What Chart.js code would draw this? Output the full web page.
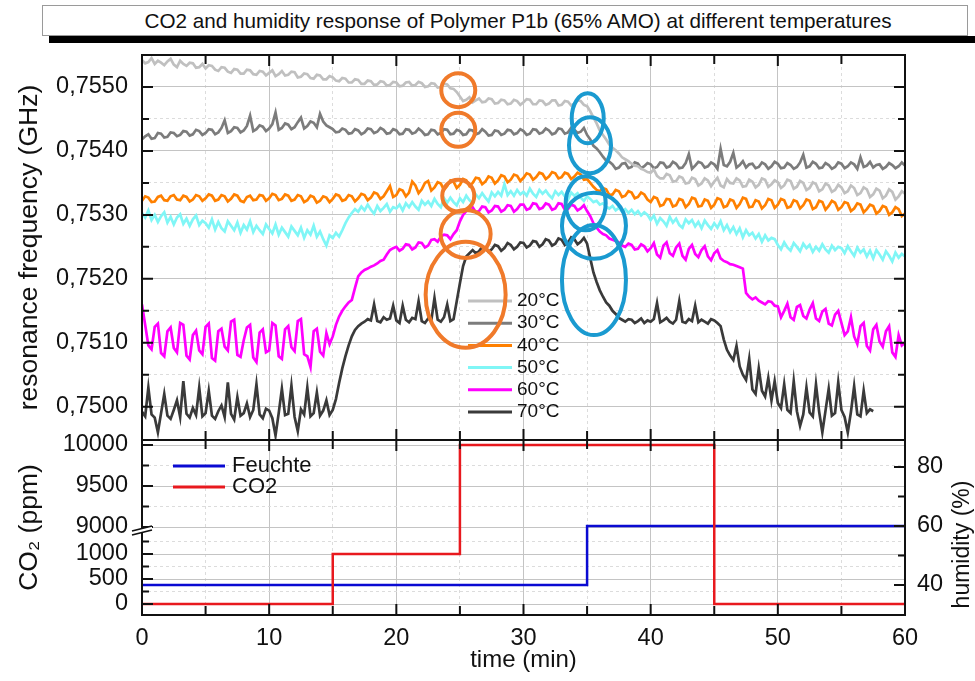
<!DOCTYPE html>
<html>
<head>
<meta charset="utf-8">
<title>CO2 and humidity response of Polymer P1b</title>
<script src="https://cdn.jsdelivr.net/npm/chart.js@4.4.1/dist/chart.umd.min.js"></script>
<style>
  html, body { margin: 0; padding: 0; background: #fff; }
  #page { position: relative; width: 975px; height: 681px; overflow: hidden;
          font-family: "Liberation Sans", Arial, Helvetica, sans-serif; }
  #headShadow { position: absolute; left: 49px; top: 36px; width: 926px; height: 7px; background: #000; }
  #head { position: absolute; left: 42px; top: 5px; width: 926px; height: 31px; box-sizing: border-box;
          border: 1px solid #9a9a9a; background: #fff; font-size: 20.7px; line-height: 29px;
          text-align: center; padding-left: 26px; color: #111; white-space: nowrap; }
  canvas { position: absolute; left: 0; }
  #freqChart { top: 0; }
  #gasChart { top: 430px; }
</style>
</head>
<body>
<div id="page">
  <div id="headShadow"></div>
  <div id="head">CO2 and humidity response of Polymer P1b (65% AMO) at different temperatures</div>
  <canvas id="freqChart" width="975" height="445"></canvas>
  <canvas id="gasChart" width="975" height="251"></canvas>
</div>
<script>
// one reading every 15 s, 0 .. 60 min
const minutes = Array.from({ length: 241 }, (_, i) => i * 0.25);

const temperatures = ['20°C', '30°C', '40°C', '50°C', '60°C', '70°C'];

// resonance frequency in GHz per temperature, 20 readings per 5 min per row
const freq20 = [
  0.75542, 0.75537, 0.75539, 0.75545, 0.75536, 0.75541, 0.75538, 0.75534, 0.75540, 0.75544, 0.75535, 0.75531, 0.75541, 0.75536, 0.75533, 0.75538, 0.75537, 0.75530, 0.75531, 0.75536,
  0.75529, 0.75534, 0.75533, 0.75527, 0.75525, 0.75531, 0.75530, 0.75524, 0.75522, 0.75528, 0.75527, 0.75521, 0.75521, 0.75527, 0.75526, 0.75520, 0.75519, 0.75525, 0.75524, 0.75518,
  0.75522, 0.75526, 0.75517, 0.75520, 0.75525, 0.75518, 0.75519, 0.75524, 0.75523, 0.75515, 0.75516, 0.75521, 0.75520, 0.75514, 0.75513, 0.75519, 0.75518, 0.75512, 0.75512, 0.75517,
  0.75515, 0.75510, 0.75509, 0.75514, 0.75513, 0.75507, 0.75507, 0.75512, 0.75511, 0.75505, 0.75505, 0.75510, 0.75509, 0.75503, 0.75504, 0.75509, 0.75508, 0.75502, 0.75503, 0.75508,
  0.75507, 0.75501, 0.75502, 0.75507, 0.75508, 0.75502, 0.75503, 0.75508, 0.75506, 0.75500, 0.75501, 0.75506, 0.75505, 0.75499, 0.75500, 0.75505, 0.75504, 0.75498, 0.75497, 0.75492,
  0.75485, 0.75478, 0.75480, 0.75484, 0.75476, 0.75479, 0.75482, 0.75476, 0.75477, 0.75482, 0.75481, 0.75474, 0.75475, 0.75480, 0.75479, 0.75473, 0.75474, 0.75480, 0.75478, 0.75472,
  0.75476, 0.75481, 0.75480, 0.75473, 0.75473, 0.75479, 0.75478, 0.75472, 0.75474, 0.75479, 0.75479, 0.75471, 0.75472, 0.75478, 0.75477, 0.75471, 0.75474, 0.75479, 0.75478, 0.75472,
  0.75470, 0.75462, 0.75452, 0.75443, 0.75432, 0.75425, 0.75418, 0.75410, 0.75405, 0.75401, 0.75396, 0.75390, 0.75387, 0.75384, 0.75380, 0.75377, 0.75376, 0.75372, 0.75370, 0.75367,
  0.75366, 0.75371, 0.75361, 0.75357, 0.75357, 0.75364, 0.75362, 0.75352, 0.75353, 0.75360, 0.75358, 0.75349, 0.75350, 0.75358, 0.75356, 0.75346, 0.75349, 0.75357, 0.75354, 0.75345,
  0.75352, 0.75358, 0.75346, 0.75343, 0.75356, 0.75350, 0.75349, 0.75357, 0.75354, 0.75344, 0.75345, 0.75355, 0.75352, 0.75343, 0.75347, 0.75357, 0.75355, 0.75344, 0.75348, 0.75354,
  0.75351, 0.75342, 0.75346, 0.75355, 0.75353, 0.75341, 0.75344, 0.75353, 0.75350, 0.75339, 0.75342, 0.75351, 0.75348, 0.75337, 0.75340, 0.75349, 0.75346, 0.75336, 0.75339, 0.75347,
  0.75343, 0.75334, 0.75337, 0.75346, 0.75342, 0.75331, 0.75334, 0.75343, 0.75340, 0.75328, 0.75332, 0.75341, 0.75338, 0.75326, 0.75330, 0.75340, 0.75336, 0.75324, 0.75329, 0.75337,
  0.75333
];
const freq30 = [
  0.75418, 0.75423, 0.75426, 0.75419, 0.75420, 0.75428, 0.75427, 0.75421, 0.75422, 0.75429, 0.75428, 0.75423, 0.75425, 0.75431, 0.75430, 0.75424, 0.75426, 0.75433, 0.75431, 0.75425,
  0.75428, 0.75434, 0.75433, 0.75426, 0.75429, 0.75436, 0.75448, 0.75428, 0.75431, 0.75437, 0.75436, 0.75429, 0.75432, 0.75439, 0.75455, 0.75431, 0.75434, 0.75440, 0.75438, 0.75431,
  0.75435, 0.75442, 0.75460, 0.75433, 0.75436, 0.75443, 0.75441, 0.75434, 0.75437, 0.75445, 0.75452, 0.75435, 0.75439, 0.75446, 0.75444, 0.75437, 0.75458, 0.75446, 0.75440, 0.75437,
  0.75434, 0.75429, 0.75430, 0.75435, 0.75433, 0.75427, 0.75428, 0.75434, 0.75432, 0.75426, 0.75429, 0.75435, 0.75434, 0.75428, 0.75430, 0.75436, 0.75433, 0.75427, 0.75428, 0.75434,
  0.75432, 0.75426, 0.75427, 0.75434, 0.75433, 0.75427, 0.75429, 0.75435, 0.75431, 0.75425, 0.75426, 0.75433, 0.75432, 0.75426, 0.75428, 0.75434, 0.75433, 0.75426, 0.75427, 0.75433,
  0.75431, 0.75425, 0.75426, 0.75433, 0.75432, 0.75426, 0.75428, 0.75434, 0.75430, 0.75424, 0.75425, 0.75432, 0.75431, 0.75425, 0.75427, 0.75433, 0.75432, 0.75426, 0.75428, 0.75434,
  0.75431, 0.75425, 0.75427, 0.75434, 0.75433, 0.75427, 0.75429, 0.75435, 0.75432, 0.75426, 0.75428, 0.75435, 0.75434, 0.75427, 0.75429, 0.75436, 0.75433, 0.75428, 0.75430, 0.75436,
  0.75425, 0.75418, 0.75408, 0.75404, 0.75398, 0.75391, 0.75385, 0.75383, 0.75379, 0.75372, 0.75374, 0.75380, 0.75381, 0.75373, 0.75375, 0.75382, 0.75380, 0.75373, 0.75376, 0.75381,
  0.75379, 0.75373, 0.75375, 0.75382, 0.75381, 0.75374, 0.75376, 0.75383, 0.75380, 0.75373, 0.75374, 0.75381, 0.75395, 0.75372, 0.75377, 0.75383, 0.75381, 0.75374, 0.75376, 0.75382,
  0.75379, 0.75372, 0.75403, 0.75378, 0.75376, 0.75383, 0.75397, 0.75374, 0.75378, 0.75384, 0.75374, 0.75379, 0.75380, 0.75373, 0.75375, 0.75382, 0.75379, 0.75372, 0.75376, 0.75383,
  0.75380, 0.75373, 0.75374, 0.75381, 0.75378, 0.75372, 0.75375, 0.75382, 0.75394, 0.75374, 0.75376, 0.75383, 0.75380, 0.75373, 0.75374, 0.75381, 0.75378, 0.75372, 0.75375, 0.75382,
  0.75380, 0.75373, 0.75376, 0.75382, 0.75379, 0.75372, 0.75390, 0.75375, 0.75377, 0.75383, 0.75374, 0.75378, 0.75379, 0.75372, 0.75375, 0.75381, 0.75378, 0.75373, 0.75376, 0.75382,
  0.75377
];
const freq40 = [
  0.75322, 0.75329, 0.75327, 0.75320, 0.75321, 0.75328, 0.75330, 0.75323, 0.75322, 0.75329, 0.75331, 0.75324, 0.75323, 0.75330, 0.75328, 0.75321, 0.75324, 0.75331, 0.75329, 0.75322,
  0.75326, 0.75332, 0.75330, 0.75322, 0.75324, 0.75331, 0.75329, 0.75321, 0.75325, 0.75332, 0.75330, 0.75322, 0.75320, 0.75328, 0.75330, 0.75323, 0.75324, 0.75331, 0.75330, 0.75322,
  0.75326, 0.75333, 0.75331, 0.75323, 0.75325, 0.75332, 0.75330, 0.75322, 0.75324, 0.75331, 0.75329, 0.75320, 0.75323, 0.75330, 0.75328, 0.75319, 0.75322, 0.75329, 0.75327, 0.75320,
  0.75325, 0.75332, 0.75330, 0.75322, 0.75324, 0.75331, 0.75329, 0.75321, 0.75326, 0.75333, 0.75331, 0.75323, 0.75327, 0.75335, 0.75333, 0.75325, 0.75329, 0.75337, 0.75345, 0.75328,
  0.75331, 0.75340, 0.75338, 0.75329, 0.75335, 0.75352, 0.75346, 0.75334, 0.75340, 0.75350, 0.75353, 0.75338, 0.75343, 0.75351, 0.75349, 0.75339, 0.75345, 0.75354, 0.75352, 0.75342,
  0.75347, 0.75356, 0.75354, 0.75345, 0.75350, 0.75358, 0.75357, 0.75348, 0.75352, 0.75360, 0.75358, 0.75349, 0.75354, 0.75362, 0.75360, 0.75351, 0.75355, 0.75363, 0.75361, 0.75353,
  0.75358, 0.75365, 0.75363, 0.75355, 0.75359, 0.75366, 0.75364, 0.75356, 0.75360, 0.75367, 0.75365, 0.75357, 0.75359, 0.75366, 0.75364, 0.75356, 0.75360, 0.75366, 0.75363, 0.75355,
  0.75356, 0.75350, 0.75344, 0.75339, 0.75337, 0.75342, 0.75340, 0.75331, 0.75332, 0.75339, 0.75337, 0.75328, 0.75330, 0.75337, 0.75335, 0.75326, 0.75328, 0.75335, 0.75332, 0.75324,
  0.75320, 0.75328, 0.75326, 0.75314, 0.75316, 0.75325, 0.75324, 0.75313, 0.75315, 0.75325, 0.75323, 0.75312, 0.75317, 0.75327, 0.75325, 0.75313, 0.75314, 0.75324, 0.75322, 0.75311,
  0.75316, 0.75326, 0.75324, 0.75312, 0.75314, 0.75324, 0.75322, 0.75311, 0.75317, 0.75327, 0.75325, 0.75312, 0.75313, 0.75323, 0.75321, 0.75310, 0.75315, 0.75325, 0.75323, 0.75311,
  0.75316, 0.75325, 0.75323, 0.75311, 0.75313, 0.75323, 0.75321, 0.75310, 0.75315, 0.75324, 0.75322, 0.75309, 0.75312, 0.75322, 0.75320, 0.75308, 0.75314, 0.75322, 0.75319, 0.75308,
  0.75312, 0.75320, 0.75318, 0.75306, 0.75310, 0.75318, 0.75316, 0.75304, 0.75309, 0.75316, 0.75314, 0.75302, 0.75306, 0.75314, 0.75312, 0.75300, 0.75304, 0.75312, 0.75309, 0.75298,
  0.75302
];
const freq50 = [
  0.75303, 0.75296, 0.75307, 0.75292, 0.75300, 0.75289, 0.75298, 0.75304, 0.75288, 0.75297, 0.75285, 0.75296, 0.75301, 0.75286, 0.75294, 0.75283, 0.75293, 0.75299, 0.75284, 0.75291,
  0.75287, 0.75280, 0.75293, 0.75277, 0.75289, 0.75279, 0.75274, 0.75290, 0.75283, 0.75276, 0.75288, 0.75272, 0.75284, 0.75277, 0.75290, 0.75273, 0.75283, 0.75276, 0.75270, 0.75285,
  0.75278, 0.75271, 0.75285, 0.75269, 0.75280, 0.75273, 0.75266, 0.75282, 0.75275, 0.75268, 0.75280, 0.75264, 0.75276, 0.75269, 0.75283, 0.75266, 0.75274, 0.75262, 0.75252, 0.75268,
  0.75264, 0.75272, 0.75266, 0.75276, 0.75287, 0.75296, 0.75303, 0.75309, 0.75305, 0.75313, 0.75307, 0.75316, 0.75308, 0.75302, 0.75314, 0.75306, 0.75311, 0.75317, 0.75305, 0.75312,
  0.75310, 0.75316, 0.75307, 0.75318, 0.75312, 0.75320, 0.75313, 0.75308, 0.75322, 0.75316, 0.75321, 0.75314, 0.75325, 0.75317, 0.75312, 0.75326, 0.75319, 0.75327, 0.75320, 0.75315,
  0.75326, 0.75320, 0.75330, 0.75323, 0.75318, 0.75332, 0.75326, 0.75334, 0.75327, 0.75321, 0.75335, 0.75329, 0.75336, 0.75330, 0.75348, 0.75331, 0.75337, 0.75330, 0.75339, 0.75332,
  0.75336, 0.75330, 0.75341, 0.75333, 0.75328, 0.75339, 0.75333, 0.75338, 0.75331, 0.75326, 0.75337, 0.75331, 0.75336, 0.75329, 0.75324, 0.75335, 0.75330, 0.75334, 0.75327, 0.75322,
  0.75329, 0.75325, 0.75320, 0.75322, 0.75316, 0.75318, 0.75313, 0.75310, 0.75314, 0.75307, 0.75311, 0.75305, 0.75309, 0.75303, 0.75308, 0.75301, 0.75306, 0.75299, 0.75304, 0.75300,
  0.75292, 0.75299, 0.75286, 0.75295, 0.75290, 0.75283, 0.75297, 0.75288, 0.75294, 0.75284, 0.75280, 0.75293, 0.75287, 0.75292, 0.75282, 0.75289, 0.75279, 0.75291, 0.75284, 0.75278,
  0.75287, 0.75280, 0.75290, 0.75276, 0.75284, 0.75273, 0.75281, 0.75270, 0.75279, 0.75265, 0.75276, 0.75268, 0.75272, 0.75263, 0.75270, 0.75258, 0.75268, 0.75260, 0.75264, 0.75262,
  0.75253, 0.75246, 0.75257, 0.75249, 0.75244, 0.75256, 0.75250, 0.75243, 0.75255, 0.75248, 0.75253, 0.75242, 0.75250, 0.75244, 0.75254, 0.75246, 0.75241, 0.75252, 0.75245, 0.75250,
  0.75248, 0.75240, 0.75251, 0.75243, 0.75236, 0.75249, 0.75241, 0.75246, 0.75235, 0.75244, 0.75232, 0.75245, 0.75238, 0.75230, 0.75243, 0.75236, 0.75227, 0.75241, 0.75233, 0.75239,
  0.75235
];
const freq60 = [
  0.75160, 0.75128, 0.75096, 0.75090, 0.75125, 0.75130, 0.75084, 0.75079, 0.75118, 0.75124, 0.75092, 0.75085, 0.75131, 0.75128, 0.75080, 0.75074, 0.75112, 0.75119, 0.75088, 0.75082,
  0.75125, 0.75130, 0.75076, 0.75072, 0.75118, 0.75122, 0.75094, 0.75088, 0.75133, 0.75136, 0.75081, 0.75078, 0.75104, 0.75124, 0.75128, 0.75077, 0.75070, 0.75116, 0.75121, 0.75085,
  0.75088, 0.75131, 0.75127, 0.75079, 0.75075, 0.75121, 0.75126, 0.75093, 0.75087, 0.75134, 0.75137, 0.75082, 0.75079, 0.75062, 0.75118, 0.75122, 0.75086, 0.75080, 0.75115, 0.75098,
  0.75110, 0.75128, 0.75141, 0.75150, 0.75157, 0.75163, 0.75167, 0.75186, 0.75204, 0.75210, 0.75214, 0.75216, 0.75219, 0.75221, 0.75224, 0.75228, 0.75230, 0.75238, 0.75245, 0.75248,
  0.75250, 0.75244, 0.75247, 0.75254, 0.75253, 0.75246, 0.75249, 0.75257, 0.75256, 0.75249, 0.75252, 0.75261, 0.75262, 0.75258, 0.75266, 0.75269, 0.75268, 0.75262, 0.75270, 0.75276,
  0.75290, 0.75300, 0.75306, 0.75311, 0.75312, 0.75304, 0.75306, 0.75313, 0.75312, 0.75304, 0.75307, 0.75314, 0.75313, 0.75305, 0.75308, 0.75315, 0.75314, 0.75305, 0.75309, 0.75316,
  0.75316, 0.75308, 0.75310, 0.75318, 0.75317, 0.75309, 0.75311, 0.75318, 0.75316, 0.75308, 0.75310, 0.75318, 0.75317, 0.75308, 0.75309, 0.75316, 0.75314, 0.75307, 0.75310, 0.75315,
  0.75306, 0.75298, 0.75287, 0.75280, 0.75274, 0.75270, 0.75268, 0.75263, 0.75261, 0.75259, 0.75257, 0.75252, 0.75250, 0.75255, 0.75253, 0.75246, 0.75247, 0.75254, 0.75251, 0.75243,
  0.75248, 0.75256, 0.75238, 0.75233, 0.75252, 0.75257, 0.75240, 0.75236, 0.75249, 0.75255, 0.75236, 0.75230, 0.75247, 0.75253, 0.75239, 0.75234, 0.75245, 0.75251, 0.75235, 0.75229,
  0.75240, 0.75245, 0.75232, 0.75228, 0.75226, 0.75223, 0.75222, 0.75220, 0.75218, 0.75216, 0.75178, 0.75172, 0.75168, 0.75171, 0.75166, 0.75163, 0.75160, 0.75165, 0.75164, 0.75158,
  0.75157, 0.75140, 0.75150, 0.75161, 0.75140, 0.75136, 0.75156, 0.75159, 0.75142, 0.75138, 0.75152, 0.75162, 0.75138, 0.75134, 0.75149, 0.75153, 0.75130, 0.75127, 0.75144, 0.75150,
  0.75131, 0.75112, 0.75118, 0.75140, 0.75110, 0.75098, 0.75126, 0.75131, 0.75095, 0.75088, 0.75121, 0.75128, 0.75102, 0.75094, 0.75118, 0.75126, 0.75085, 0.75078, 0.75112, 0.75096,
  0.75100
];
// the 70 °C run stops at 57.5 min
const freq70 = [
  0.74992, 0.74985, 0.75030, 0.74988, 0.74983, 0.74960, 0.74990, 0.75020, 0.74986, 0.74981, 0.74995, 0.75010, 0.74984, 0.75040, 0.74989, 0.74983, 0.74998, 0.74987, 0.75030, 0.74985,
  0.74990, 0.75025, 0.74986, 0.74981, 0.74993, 0.75002, 0.74984, 0.75038, 0.74989, 0.74980, 0.75015, 0.74986, 0.74990, 0.75005, 0.74984, 0.74995, 0.75035, 0.74988, 0.74982, 0.74997,
  0.74994, 0.74982, 0.74955, 0.74990, 0.75028, 0.74987, 0.74989, 0.75033, 0.74984, 0.74962, 0.74996, 0.74988, 0.75030, 0.74985, 0.74990, 0.75022, 0.74986, 0.74994, 0.75010, 0.74987,
  0.74995, 0.75012, 0.75037, 0.75060, 0.75079, 0.75096, 0.75110, 0.75120, 0.75126, 0.75130, 0.75133, 0.75137, 0.75135, 0.75160, 0.75134, 0.75132, 0.75140, 0.75136, 0.75138, 0.75158,
  0.75135, 0.75131, 0.75158, 0.75136, 0.75132, 0.75139, 0.75137, 0.75165, 0.75134, 0.75131, 0.75138, 0.75135, 0.75170, 0.75136, 0.75133, 0.75140, 0.75160, 0.75134, 0.75137, 0.75165,
  0.75193, 0.75220, 0.75235, 0.75240, 0.75245, 0.75240, 0.75243, 0.75250, 0.75248, 0.75242, 0.75246, 0.75253, 0.75251, 0.75244, 0.75248, 0.75256, 0.75253, 0.75246, 0.75250, 0.75257,
  0.75256, 0.75249, 0.75252, 0.75259, 0.75258, 0.75250, 0.75254, 0.75262, 0.75260, 0.75252, 0.75255, 0.75263, 0.75261, 0.75253, 0.75257, 0.75265, 0.75262, 0.75254, 0.75258, 0.75264,
  0.75255, 0.75232, 0.75210, 0.75195, 0.75182, 0.75172, 0.75163, 0.75158, 0.75150, 0.75145, 0.75139, 0.75136, 0.75133, 0.75137, 0.75136, 0.75131, 0.75134, 0.75138, 0.75131, 0.75135,
  0.75133, 0.75137, 0.75162, 0.75132, 0.75135, 0.75139, 0.75133, 0.75130, 0.75136, 0.75165, 0.75133, 0.75131, 0.75137, 0.75134, 0.75158, 0.75132, 0.75136, 0.75133, 0.75130, 0.75137,
  0.75135, 0.75131, 0.75126, 0.75105, 0.75089, 0.75080, 0.75073, 0.75095, 0.75063, 0.75050, 0.75042, 0.75075, 0.75027, 0.75020, 0.75060, 0.75025, 0.75016, 0.75045, 0.75010, 0.75040,
  0.75006, 0.74998, 0.75035, 0.74995, 0.74990, 0.75040, 0.74993, 0.74970, 0.74988, 0.75030, 0.74991, 0.74985, 0.75035, 0.74992, 0.74960, 0.74994, 0.75028, 0.74986, 0.74990, 0.75038,
  0.74995, 0.74984, 0.74960, 0.74992, 0.75032, 0.74988, 0.74985, 0.75025, 0.74990, 0.74996, 0.74993
];
const freqTicks = [0.7500, 0.7505, 0.7510, 0.7515, 0.7520, 0.7525, 0.7530,
                   0.7535, 0.7540, 0.7545, 0.7550];

// gas programme: CO2 set point (ppm) and humidity (%), held until the next change
const co2Minutes = [0, 15, 25, 45, 60];
const co2Ppm = [0, 1000, 10000, 0, 0];
const humidityMinutes = [0, 35, 60];
const humidityPct = [40, 60, 60];
const co2Ticks = [0, 250, 500, 750, 1000, 1250, 9000, 9250, 9500, 9750, 10000];
const humidityTicks = [40, 50, 60, 70, 80];

const tempColors = ['#c0c0c0', '#7c7c7c', '#ff8000', '#80f6f6', '#ff00ff', '#3a3a3a'];
const FONT = '"Liberation Sans", Arial, Helvetica, sans-serif';

// marked response regions: centre in (min, GHz), radii in px
const rings = [
  { t: 24.87, v: 0.75495, rx: 17, ry: 17, color: '#f07a2a' },
  { t: 24.87, v: 0.75433, rx: 17, ry: 17, color: '#f07a2a' },
  { t: 24.87, v: 0.75330, rx: 16, ry: 16, color: '#f07a2a' },
  { t: 25.45, v: 0.75270, rx: 25, ry: 24, color: '#f07a2a' },
  { t: 25.45, v: 0.75175, rx: 40, ry: 53, color: '#f07a2a' },
  { t: 35.05, v: 0.75451, rx: 16, ry: 25, color: '#1a9ad0' },
  { t: 35.23, v: 0.75409, rx: 21, ry: 28, color: '#1a9ad0' },
  { t: 34.89, v: 0.75318, rx: 20, ry: 27, color: '#1a9ad0' },
  { t: 35.54, v: 0.75283, rx: 32, ry: 33, color: '#1a9ad0' },
  { t: 35.54, v: 0.75198, rx: 32, ry: 55, color: '#1a9ad0' }
];

Chart.defaults.font.family = FONT;
Chart.defaults.color = '#111';

function isMultiple(v, step) {
  return Math.abs(v / step - Math.round(v / step)) < 1e-6;
}

// CO2 axis with a gap between 1250 and 9000 ppm
const PPM_KNEE = 1540;       // lower-segment position where 9000 ppm sits
const PPM_UPPER_GAIN = 1.64; // upper segment is stretched relative to the lower one
function squashPpm(v) {
  return v < 9000 ? Math.min(v, PPM_KNEE) : PPM_KNEE + (v - 9000) * PPM_UPPER_GAIN;
}
function unsquashPpm(u) {
  return u <= PPM_KNEE ? u : 9000 + (u - PPM_KNEE) / PPM_UPPER_GAIN;
}
class BrokenScale extends Chart.LinearScale {
  static id = 'broken';
  static defaults = {};
  determineDataLimits() {
    this.min = squashPpm(this.options.min);
    this.max = squashPpm(this.options.max);
  }
  buildTicks() {
    return co2Ticks.map(value => ({ value }));
  }
  getPixelForValue(value) {
    return super.getPixelForValue(squashPpm(value));
  }
  getValueForPixel(pixel) {
    return unsquashPpm(super.getValueForPixel(pixel));
  }
}
Chart.register(BrokenScale);

function gridStyle(step) {
  return {
    drawTicks: false,
    lineWidth: 1,
    color: c => (c.tick && isMultiple(c.tick.value, step)) ? '#c4c4c4' : '#dcdcdc'
  };
}
function borderStyle(step) {
  return {
    display: false,
    dash: c => (c.tick && isMultiple(c.tick.value, step)) ? [] : [3, 3]
  };
}
// fixed axis width, no extra room reserved for the end labels
function fixWidth(w) {
  return s => { s.width = w; s.paddingTop = 0; s.paddingBottom = 0; };
}

// black frame with inward tick marks on every side
const frameTicks = {
  id: 'frameTicks',
  afterDraw(chart, args, o) {
    const { ctx, chartArea: a, scales } = chart;
    ctx.save();
    ctx.strokeStyle = '#111';
    ctx.lineWidth = 2;
    ctx.beginPath();
    scales.x.ticks.forEach(t => {
      const px = scales.x.getPixelForValue(t.value);
      const len = isMultiple(t.value, 10) ? 11 : 9;
      ctx.moveTo(px, a.bottom); ctx.lineTo(px, a.bottom - len);
      ctx.moveTo(px, a.top); ctx.lineTo(px, a.top + len);
    });
    const yl = scales[o.left];
    yl.ticks.forEach(t => {
      const py = yl.getPixelForValue(t.value);
      const len = isMultiple(t.value, o.leftStep) ? 11 : 7;
      ctx.moveTo(a.left, py); ctx.lineTo(a.left + len, py);
      if (o.mirror) { ctx.moveTo(a.right, py); ctx.lineTo(a.right - len, py); }
    });
    if (o.right) {
      const yr = scales[o.right];
      yr.ticks.forEach(t => {
        const py = yr.getPixelForValue(t.value);
        const len = isMultiple(t.value, o.rightStep) ? 11 : 7;
        ctx.moveTo(a.right, py); ctx.lineTo(a.right - len, py);
      });
    }
    ctx.stroke();
    ctx.strokeRect(a.left, a.top, a.right - a.left, a.bottom - a.top);
    ctx.restore();
  }
};

// in-plot key: short line sample followed by the dataset label
const seriesKey = {
  id: 'seriesKey',
  afterDatasetsDraw(chart, args, o) {
    const { ctx, chartArea: a } = chart;
    ctx.save();
    ctx.font = o.size + 'px ' + FONT;
    ctx.textBaseline = 'middle';
    ctx.fillStyle = '#111';
    ctx.lineWidth = 3;
    chart.data.datasets.forEach((ds, i) => {
      const y = a.top + o.top + i * o.step;
      const x = a.left + o.left;
      ctx.strokeStyle = ds.borderColor;
      ctx.beginPath(); ctx.moveTo(x, y); ctx.lineTo(x + o.len, y); ctx.stroke();
      ctx.fillText(ds.label, x + o.len + o.gap, y);
    });
    ctx.restore();
  }
};

const ringMarks = {
  id: 'ringMarks',
  afterDatasetsDraw(chart) {
    const { ctx, scales } = chart;
    ctx.save();
    ctx.lineWidth = 4;
    rings.forEach(r => {
      ctx.strokeStyle = r.color;
      ctx.beginPath();
      ctx.ellipse(scales.x.getPixelForValue(r.t), scales.y.getPixelForValue(r.v),
                  r.rx, r.ry, 0, 0, Math.PI * 2);
      ctx.stroke();
    });
    ctx.restore();
  }
};

// axis break symbol on the CO2 axis and the right-hand axis title
const gasExtras = {
  id: 'gasExtras',
  afterDraw(chart) {
    const { ctx, chartArea: a, scales } = chart;
    const y0 = scales.y.getPixelForValue(9000) + 1;
    ctx.save();
    ctx.fillStyle = '#fff';
    ctx.beginPath();
    ctx.moveTo(a.left - 10, y0 + 3); ctx.lineTo(a.left + 10, y0 - 2);
    ctx.lineTo(a.left + 10, y0 + 2); ctx.lineTo(a.left - 10, y0 + 7);
    ctx.closePath(); ctx.fill();
    ctx.strokeStyle = '#111';
    ctx.lineWidth = 1.8;
    ctx.beginPath();
    ctx.moveTo(a.left - 10, y0 + 3); ctx.lineTo(a.left + 10, y0 - 2);
    ctx.moveTo(a.left - 10, y0 + 7); ctx.lineTo(a.left + 10, y0 + 2);
    ctx.stroke();

    ctx.translate(963, (a.top + a.bottom) / 2 + 17);
    ctx.rotate(-Math.PI / 2);
    ctx.font = '23px ' + FONT;
    ctx.fillStyle = '#111';
    ctx.textAlign = 'center';
    ctx.textBaseline = 'middle';
    ctx.fillText('humidity (%)', 0, 0);
    ctx.restore();
  }
};

const freqSeries = [freq20, freq30, freq40, freq50, freq60, freq70];

new Chart(document.getElementById('freqChart'), {
  type: 'line',
  data: {
    datasets: freqSeries.map((vals, k) => ({
      label: temperatures[k],
      data: vals.map((v, i) => ({ x: minutes[i], y: v })),
      borderColor: tempColors[k],
      borderWidth: 2.7,
      pointRadius: 0,
      tension: 0
    }))
  },
  options: {
    responsive: false,
    animation: false,
    events: [],
    layout: { padding: { top: 55, right: 70, bottom: 5, left: 0 } },
    plugins: {
      legend: { display: false },
      tooltip: { enabled: false },
      frameTicks: { left: 'y', leftStep: 0.001, mirror: true },
      seriesKey: { left: 326, top: 246, step: 22.2, len: 44, gap: 5, size: 19 }
    },
    scales: {
      x: {
        type: 'linear', min: 0, max: 60,
        ticks: { display: false, stepSize: 5 },
        grid: gridStyle(10), border: borderStyle(10),
        afterFit: s => { s.height = 0; }
      },
      y: {
        type: 'linear', bounds: 'data', min: 0.74948, max: 0.7555,
        afterBuildTicks: s => { s.ticks = freqTicks.map(value => ({ value })); },
        afterFit: fixWidth(142),
        ticks: {
          padding: 14, autoSkip: false, font: { size: 23.5 },
          callback: v => isMultiple(v, 0.001) ? v.toFixed(4).replace('.', ',') : ''
        },
        grid: gridStyle(0.001), border: borderStyle(0.001),
        title: { display: true, text: 'resonance frequency (GHz)', font: { size: 26.5 },
                 padding: { top: 14, bottom: 0 } }
      }
    }
  },
  plugins: [frameTicks, seriesKey, ringMarks]
});

new Chart(document.getElementById('gasChart'), {
  type: 'line',
  data: {
    datasets: [
      {
        label: 'Feuchte',
        data: humidityPct.map((v, i) => ({ x: humidityMinutes[i], y: v })),
        yAxisID: 'y1', borderColor: '#0a0ad2', borderWidth: 2.5,
        pointRadius: 0, stepped: true, order: 1
      },
      {
        label: 'CO2',
        data: co2Ppm.map((v, i) => ({ x: co2Minutes[i], y: v })),
        yAxisID: 'y', borderColor: '#e8191e', borderWidth: 2.5,
        pointRadius: 0, stepped: true, order: 0
      }
    ]
  },
  options: {
    responsive: false,
    animation: false,
    events: [],
    layout: { padding: { top: 10, right: 0, bottom: 0, left: 0 } },
    plugins: {
      legend: { display: false },
      tooltip: { enabled: false },
      frameTicks: { left: 'y', leftStep: 500, right: 'y1', rightStep: 20 },
      seriesKey: { left: 31, top: 26, step: 21, len: 52, gap: 7, size: 22 }
    },
    scales: {
      x: {
        type: 'linear', min: 0, max: 60,
        ticks: {
          stepSize: 5, padding: 9, autoSkip: false, maxRotation: 0, font: { size: 23.5 },
          callback: v => isMultiple(v, 10) ? String(v) : ''
        },
        grid: gridStyle(10), border: borderStyle(10),
        title: { display: true, text: 'time (min)', font: { size: 24 },
                 padding: { top: 0, bottom: 6 } },
        afterFit: s => { s.height = 66; }
      },
      y: {
        type: 'broken', position: 'left', min: -220, max: 10061,
        afterFit: fixWidth(142),
        ticks: {
          padding: 14, autoSkip: false, font: { size: 23.5 },
          callback: v => isMultiple(v, 500) ? String(v) : ''
        },
        grid: gridStyle(500), border: borderStyle(500),
        title: { display: true, text: 'CO₂ (ppm)', font: { size: 26.5 },
                 padding: { top: 14, bottom: 0 } }
      },
      y1: {
        type: 'linear', position: 'right', bounds: 'data', min: 29.83, max: 89.15,
        afterBuildTicks: s => { s.ticks = humidityTicks.map(value => ({ value })); },
        afterFit: fixWidth(70),
        ticks: {
          padding: 12, autoSkip: false, font: { size: 23.5 },
          callback: v => isMultiple(v, 20) ? String(v) : ''
        },
        grid: { drawOnChartArea: false, drawTicks: false },
        border: { display: false }
      }
    }
  },
  plugins: [frameTicks, seriesKey, gasExtras]
});
</script>
</body>
</html>
